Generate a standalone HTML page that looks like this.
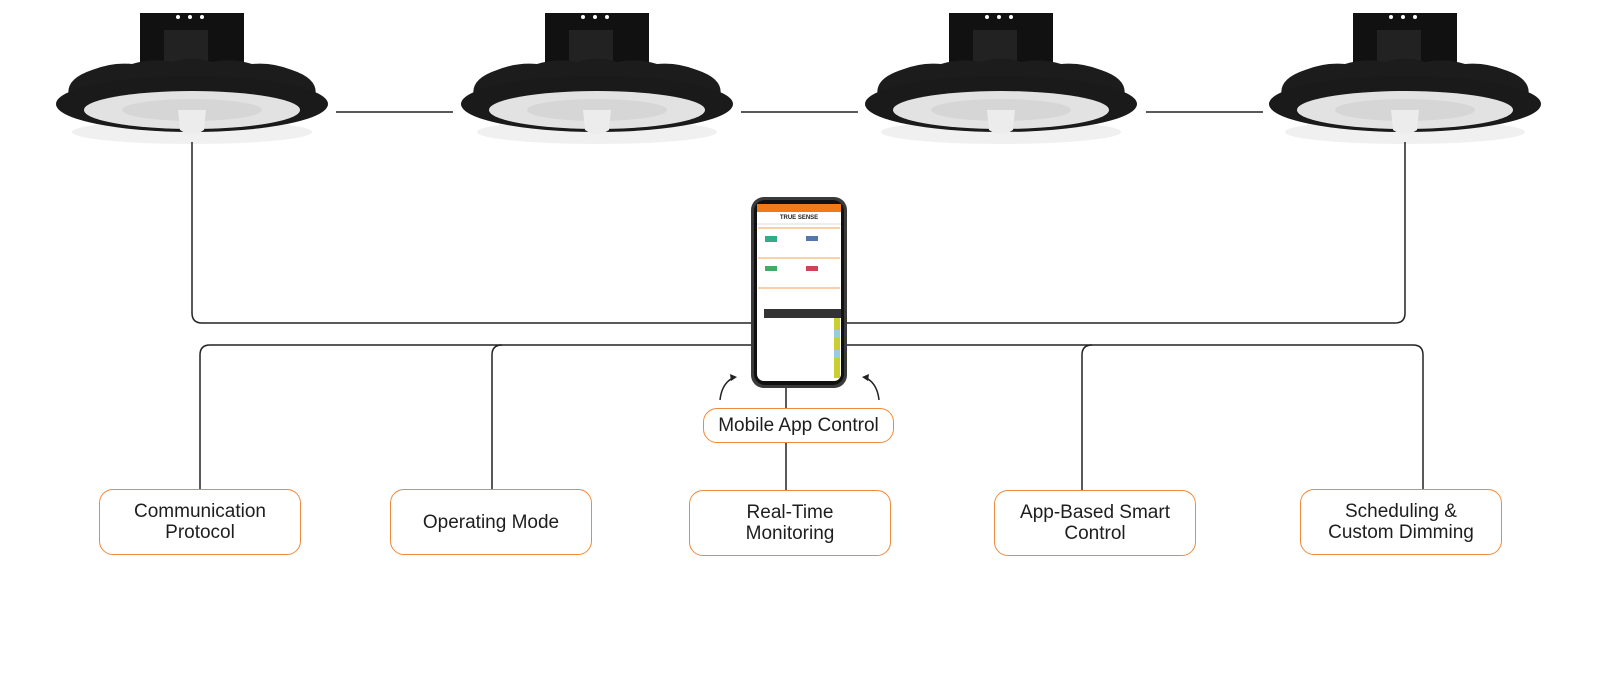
<!DOCTYPE html>
<html><head><meta charset="utf-8"><style>
html,body{margin:0;padding:0;background:#fff;}
body{width:1600px;height:680px;position:relative;overflow:hidden;font-family:"Liberation Sans",sans-serif;}
.box{position:absolute;border:1.5px solid #ee8a3e;border-radius:14px;background:#fff;display:flex;align-items:center;justify-content:center;text-align:center;font-size:19px;line-height:21px;color:#1e1e1e;box-sizing:border-box;}
</style></head><body>
<svg width="1600" height="680" style="position:absolute;left:0;top:0">
<defs>
<g id="lamp">
  <ellipse cx="0" cy="132" rx="120" ry="12" fill="#000" opacity="0.06"/>
  <rect x="-52" y="13" width="104" height="72" fill="#111"/>
  <rect x="-28" y="30" width="44" height="34" fill="#222"/>
  <circle cx="-14" cy="17" r="2" fill="#fff"/><circle cx="-2" cy="17" r="2" fill="#fff"/><circle cx="10" cy="17" r="2" fill="#fff"/>
  <path d="M-122,100 Q-130,80 -100,70 Q-80,62 -60,64 Q-40,58 -20,62 Q0,55 20,62 Q40,58 60,64 Q80,62 100,70 Q130,80 122,100 Z" fill="#1c1c1c"/>
  <ellipse cx="0" cy="104" rx="136" ry="28" fill="#1a1a1a"/>
  <ellipse cx="0" cy="110" rx="108" ry="19" fill="#e2e2e2"/>
  <ellipse cx="0" cy="110" rx="70" ry="11" fill="#d6d6d6"/>
  <path d="M-14,110 L14,110 L12,130 Q0,138 -12,130 Z" fill="#ececec"/>
</g>
</defs>
<use href="#lamp" x="192" y="0"/>
<use href="#lamp" x="597" y="0"/>
<use href="#lamp" x="1001" y="0"/>
<use href="#lamp" x="1405" y="0"/>
<g stroke="#222" stroke-width="1.5" fill="none">
  <line x1="336" y1="112" x2="453" y2="112"/>
  <line x1="741" y1="112" x2="858" y2="112"/>
  <line x1="1146" y1="112" x2="1263" y2="112"/>
  <path d="M192,142 V313 Q192,323 202,323 H1395 Q1405,323 1405,313 V142"/>
  <path d="M200,490 V355 Q200,345 210,345 H1413 Q1423,345 1423,355 V489"/>
  <path d="M492,490 V355 Q492,345 502,345"/>
  <path d="M1082,490 V355 Q1082,345 1092,345"/>
  <line x1="786" y1="387" x2="786" y2="408"/>
  <line x1="786" y1="443" x2="786" y2="491"/>
  <path d="M720,400 Q722,382 735,377"/>
  <path d="M879,400 Q877,382 864,377"/>
</g>
<path d="M737,377 l-7,-3 l1,7 z" fill="#222"/>
<path d="M862,377 l7,-3 l-1,7 z" fill="#222"/>
<!-- phone -->
<rect x="751" y="197" width="96" height="191" rx="13" fill="#3a3a3a"/>
<rect x="754" y="200" width="90" height="185" rx="11" fill="#111"/>
<rect x="757" y="204" width="84" height="177" rx="7" fill="#fff"/>
<rect x="757" y="204" width="84" height="8" fill="#f07a1a"/>
<text x="799" y="219" font-size="6" font-weight="bold" text-anchor="middle" fill="#222">TRUE SENSE</text>
<rect x="757" y="223" width="84" height="2" fill="#eee"/>
<line x1="758" y1="228" x2="840" y2="228" stroke="#f5a050" stroke-width="1"/>
<line x1="758" y1="258" x2="840" y2="258" stroke="#f5a050" stroke-width="1"/>
<line x1="758" y1="288" x2="840" y2="288" stroke="#f5a050" stroke-width="1"/>
<rect x="765" y="236" width="12" height="6" fill="#3a8"/>
<rect x="806" y="236" width="12" height="5" fill="#57a"/>
<rect x="765" y="266" width="12" height="5" fill="#4a6"/>
<rect x="806" y="266" width="12" height="5" fill="#c45"/>
<rect x="764" y="309" width="77" height="9" fill="#333"/>
<rect x="834" y="318" width="6" height="60" fill="#cc3"/>
<rect x="834" y="330" width="6" height="8" fill="#9cd"/>
<rect x="834" y="350" width="6" height="8" fill="#9cd"/>
</svg>
<div class="box" style="left:703px;top:408px;width:191px;height:35px;">Mobile App Control</div>
<div class="box" style="left:99px;top:489px;width:202px;height:66px;">Communication<br>Protocol</div>
<div class="box" style="left:390px;top:489px;width:202px;height:66px;">Operating Mode</div>
<div class="box" style="left:689px;top:490px;width:202px;height:66px;">Real-Time<br>Monitoring</div>
<div class="box" style="left:994px;top:490px;width:202px;height:66px;">App-Based Smart<br>Control</div>
<div class="box" style="left:1300px;top:489px;width:202px;height:66px;">Scheduling &amp;<br>Custom Dimming</div>
</body></html>
